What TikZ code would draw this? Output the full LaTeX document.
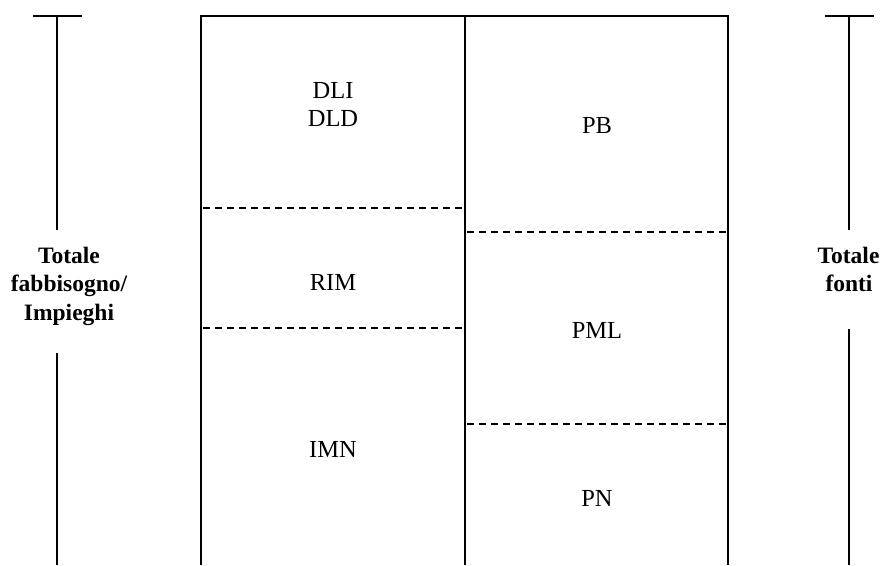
\documentclass[tikz,border=0pt]{standalone}
\usepackage{fontspec}
\setmainfont{Liberation Serif}
\begin{document}
\begin{tikzpicture}[x=1pt,y=-1pt,
  frame/.style={line width=1.5pt},
  divider/.style={line width=1.4pt, dash pattern=on 7pt off 5pt},
  cell/.style={font=\fontsize{24.5}{28}\selectfont, inner sep=0pt, anchor=base},
  total/.style={font=\bfseries\fontsize{23.5}{28.5}\selectfont, inner sep=0pt, anchor=base}]
\useasboundingbox (0,0) rectangle (883,565);

% outer frame of the balance sheet (open at the bottom)
\coordinate (boxTL) at (201,16);
\coordinate (boxTR) at (728,16);
\coordinate (boxBL) at (201,565);
\coordinate (boxBR) at (728,565);
\coordinate (midT) at (465,16);
\coordinate (midB) at (465,565);
\draw[frame] (boxBL) -- (boxTL) -- (boxTR) -- (boxBR);
\draw[frame] (midT) -- (midB);

% dashed separators, left column
\draw[divider] (203,208) -- (462,208);
\draw[divider] (203,328) -- (462,328);
% dashed separators, right column
\draw[divider] (467,232) -- (726,232);
\draw[divider] (467,424) -- (726,424);

% cell labels
\node[cell] (dli) at (333,98) {DLI};
\node[cell] (dld) at (333,126) {DLD};
\node[cell] (rim) at (333,290) {RIM};
\node[cell] (imn) at (333,457) {IMN};
\node[cell] (pb)  at (597,133) {PB};
\node[cell] (pml) at (597,338) {PML};
\node[cell] (pn)  at (597,506.5) {PN};

% left total bar
\node[total] (impA) at (69,263) {Totale};
\node[total] (impB) at (69,291.5) {fabbisogno/};
\node[total] (impC) at (69,320) {Impieghi};
\coordinate (lTop) at (57,16);
\coordinate (lGapA) at (57,230);
\coordinate (lGapB) at (57,353);
\coordinate (lBot) at (57,565);
\draw[frame] (33,16) -- (82,16);
\draw[frame] (lTop) -- (lGapA);
\draw[frame] (lGapB) -- (lBot);

% right total bar
\node[total] (fonA) at (848.5,263) {Totale};
\node[total] (fonB) at (849,291.5) {fonti};
\coordinate (rTop) at (849,16);
\coordinate (rGapA) at (849,230);
\coordinate (rGapB) at (849,329);
\coordinate (rBot) at (849,565);
\draw[frame] (825,16) -- (874,16);
\draw[frame] (rTop) -- (rGapA);
\draw[frame] (rGapB) -- (rBot);
\end{tikzpicture}
\end{document}
